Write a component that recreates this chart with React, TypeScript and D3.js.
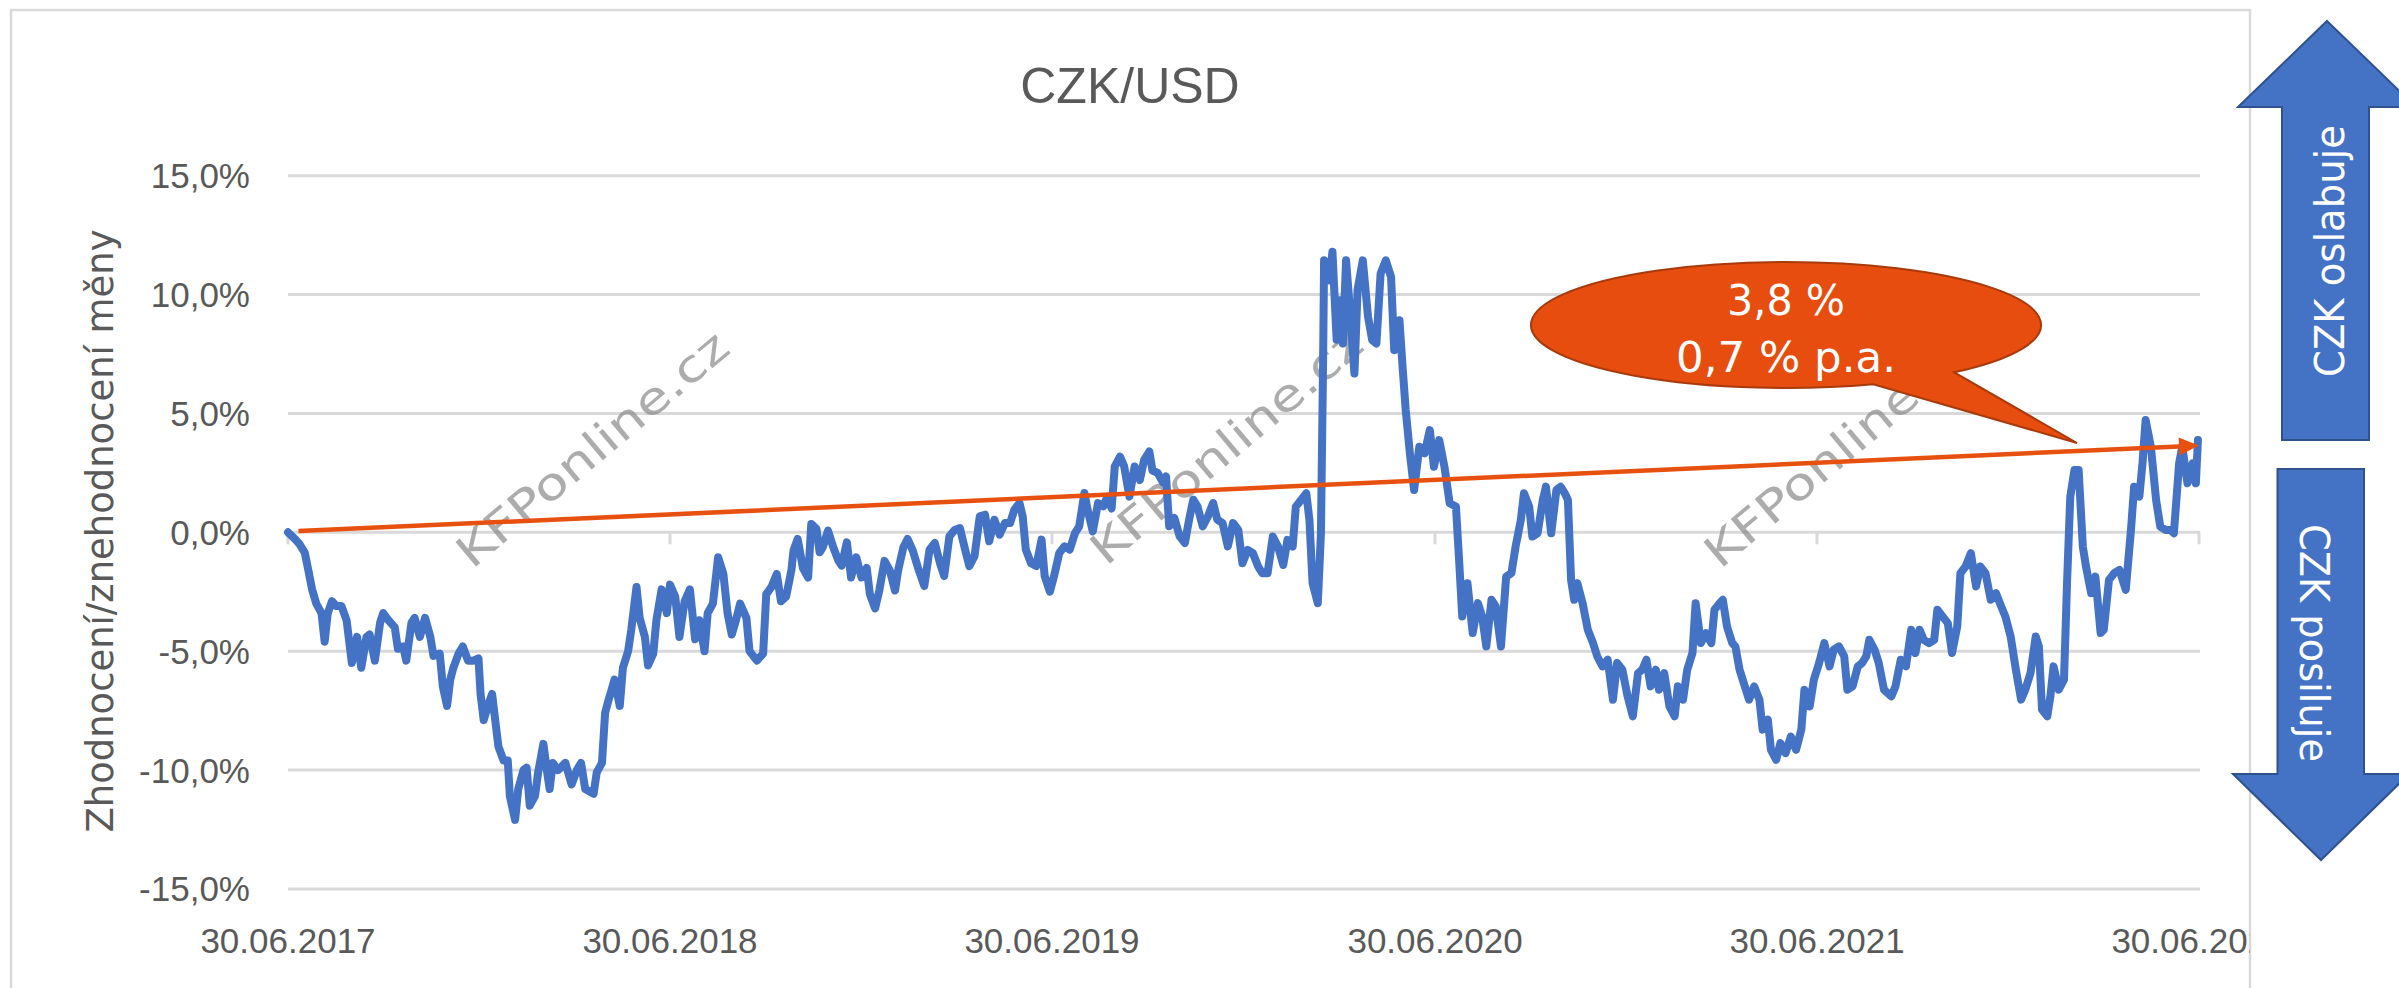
import React from 'react';
import * as d3 from 'd3';

// ---------- DATA ----------
const START = new Date(2017, 5, 30);
const END = new Date(2022, 5, 30);

// days since 30.06.2017
const dayOffsets = [
  0, 7, 11, 16, 19, 23, 27, 32, 35, 38, 42, 46, 51, 56, 61, 66, 70, 75, 78, 83, 88, 91, 96, 102, 105, 110, 113, 118, 121, 126, 131, 136, 139, 145, 148, 152, 155, 158, 163, 167, 172, 177, 182, 184, 187, 191, 195, 198, 201, 206, 210, 212, 217, 220, 225, 228, 231, 236, 239, 244, 247, 250, 253, 258, 265, 271, 276, 280, 284, 292, 295,
  300, 303, 306, 312, 317, 320, 325, 328, 333, 336, 341, 344, 349, 352, 357, 362, 365, 370, 374, 379, 384, 389, 393, 398, 401, 406, 411, 416, 420, 424, 428, 432, 438, 441, 448, 454, 457, 462, 467, 471, 476, 481, 483, 487, 492, 497, 500, 505, 508, 511, 516, 521, 526, 529, 534, 538, 543, 548, 553, 556, 561, 565, 570, 575, 580, 583, 588, 592, 597, 602,
  608, 613, 618, 623, 627, 632, 637, 642, 647, 651, 656, 661, 666, 670, 675, 680, 685, 690, 694, 699, 702, 705, 710, 715, 720, 723, 728, 732, 737, 742, 747, 752, 756, 761, 764, 769, 774, 779, 783, 787, 790, 795, 799, 804, 809, 814, 818, 823, 826, 831, 836, 839, 842, 847, 852, 857, 861, 865, 869, 874, 879, 884, 888, 893, 898, 903, 908, 912,
  917, 922, 927, 931, 936, 941, 946, 951, 955, 960, 963, 968, 973, 976, 979, 984, 987, 989, 990, 995, 998, 1002, 1005, 1008, 1011, 1014, 1019, 1022, 1027, 1032, 1036, 1040, 1044, 1049, 1054, 1057, 1062, 1065, 1068, 1072, 1076, 1081, 1086, 1091, 1095, 1100, 1105, 1110, 1116, 1119, 1122, 1127, 1132, 1137, 1141, 1145, 1150, 1154, 1159, 1164, 1169, 1173, 1178, 1181, 1186, 1189, 1194, 1199, 1202, 1207, 1212, 1216,
  1220, 1223, 1226, 1229, 1232, 1237, 1242, 1247, 1251, 1256, 1261, 1266, 1270, 1275, 1280, 1285, 1290, 1294, 1298, 1302, 1307, 1310, 1315, 1320, 1325, 1328, 1333, 1337, 1342, 1345, 1350, 1355, 1360, 1363, 1368, 1371, 1375, 1380, 1383, 1387, 1391, 1396, 1401, 1406, 1409, 1414, 1417, 1422, 1426, 1431, 1436, 1441, 1446, 1449, 1454, 1458, 1463, 1468, 1473, 1477, 1482, 1487, 1490, 1495, 1500, 1504, 1508, 1511, 1516, 1520, 1525,
  1532, 1536, 1541, 1546, 1551, 1555, 1559, 1563, 1568, 1573, 1576, 1581, 1586, 1590, 1595, 1598, 1603, 1608, 1613, 1617, 1622, 1627, 1632, 1637, 1641, 1646, 1651, 1656, 1660, 1665, 1670, 1673, 1676, 1681, 1684, 1687, 1692, 1697, 1700, 1703, 1707, 1711, 1715, 1718, 1723, 1727, 1732, 1735, 1740, 1745, 1750, 1756, 1761, 1764, 1769, 1772, 1775, 1780, 1785, 1789, 1794, 1799, 1802, 1807, 1810, 1815, 1820, 1823, 1825,
];

// appreciation / depreciation in %
const changePct = [
  0, -0.3, -0.5, -0.85, -1.5, -2.4, -3.0, -3.4, -4.6, -3.4, -2.9, -3.1, -3.1, -3.7, -5.5, -4.4, -5.7, -4.4, -4.3, -5.4, -3.8, -3.4, -3.7, -4.0, -4.9, -4.8, -5.4, -3.8, -3.6, -4.4, -3.6, -4.4, -5.2, -5.1, -6.5, -7.3, -6.2, -5.7, -5.1, -4.8, -5.4, -5.4, -5.3, -6.8, -7.9, -7.3, -6.8, -7.9, -9.0, -9.6, -9.6, -11.1, -12.1, -10.8, -10.0, -9.9, -11.5, -11.1, -10.1, -8.9, -9.9, -10.8, -9.7, -10.0, -9.7, -10.6, -10.0, -9.7, -10.8, -11.0, -10.1,
  -9.7, -7.6, -7.1, -6.2, -7.3, -5.7, -5.0, -4.1, -2.3, -3.6, -4.4, -5.6, -5.1, -3.7, -2.4, -3.4, -2.2, -2.7, -4.4, -2.9, -2.4, -4.5, -3.7, -5.0, -3.4, -3.0, -1.05, -1.75, -3.4, -4.3, -3.7, -3.0, -3.6, -5.0, -5.4, -5.1, -2.6, -2.3, -1.75, -2.9, -2.7, -1.6, -0.77, -0.28, -1.5, -1.9, 0.35, 0.14, -0.84, -0.63, 0.07, -0.63, -1.2, -1.4, -0.42, -1.9, -1.05, -1.9, -1.5, -2.6, -3.2, -2.45, -1.2, -1.6, -2.45, -1.6, -0.63, -0.28, -0.77, -1.5,
  -2.26, -0.73, -0.45, -1.3, -1.84, -0.17, 0.1, 0.18, -0.73, -1.42, -1.0, 0.67, 0.74, -0.38, 0.53, -0.1, 0.39, 0.39, 0.95, 1.23, 0.67, -0.73, -1.3, -1.42, -0.31, -1.84, -2.5, -1.84, -0.87, -0.59, -0.73, -0.03, 0.25, 1.65, 0.95, 0.04, 1.23, 1.09, 1.5, 1.0, 2.77, 3.18, 2.77, 1.5, 2.77, 2.2, 3.04, 3.4, 2.6, 2.5, 2.1, 2.35, 0.25, 0.6, -0.17, -0.45, 0.53, 1.37, 1.09, 0.25, 0.67, 1.23, 0.53, 0.39, -0.59, 0.39, 0.1, -1.3,
  -0.74, -0.88, -1.44, -1.72, -1.72, -0.18, -0.6, -1.37, -0.32, -0.6, 1.08, 1.36, 1.64, 0.52, -2.14, -2.98, -0.04, 6.96, 11.44, 10.6, 11.8, 8.1, 9.76, 7.94, 11.44, 9.76, 6.68, 10.2, 11.44, 9.06, 8.08, 7.94, 10.88, 11.44, 10.74, 7.66, 8.92, 6.96, 5.14, 3.32, 1.78, 3.6, 3.32, 4.3, 2.76, 3.88, 2.76, 1.22, 1.08, -1.16, -3.54, -2.14, -4.24, -2.98, -3.54, -4.8, -2.84, -3.12, -4.8, -1.86, -1.72, -0.6, 0.52, 1.64, 1.08, -0.18, -0.04, 1.36, 1.92, -0.04, 1.78, 1.92,
  1.64, 1.36, -2.0, -2.84, -2.14, -2.98, -4.1, -4.66, -5.22, -5.64, -5.36, -7.04, -5.5, -5.78, -6.9, -7.74, -5.92, -5.78, -5.36, -6.48, -5.78, -6.62, -5.92, -7.32, -7.74, -6.48, -7.04, -5.78, -5.08, -2.98, -4.66, -4.24, -4.66, -3.26, -2.98, -2.84, -3.96, -4.66, -4.8, -5.78, -6.34, -7.04, -6.48, -7.04, -8.3, -7.88, -9.15, -9.57, -8.87, -9.29, -8.59, -9.15, -8.3, -6.62, -7.32, -6.2, -5.5, -4.66, -5.64, -4.94, -4.8, -5.22, -6.62, -6.48, -5.64, -5.5, -5.22, -4.52, -4.94, -5.5, -6.62,
  -6.9, -6.48, -5.36, -5.64, -4.1, -5.08, -4.1, -4.52, -4.66, -4.52, -3.26, -3.54, -3.82, -5.08, -3.96, -1.72, -1.44, -0.88, -2.28, -1.44, -1.72, -2.84, -2.56, -3.12, -3.54, -4.38, -5.78, -7.04, -6.62, -5.92, -4.38, -4.8, -7.46, -7.74, -6.9, -5.64, -6.62, -6.2, -2.0, 1.5, 2.62, 2.62, -0.6, -1.44, -2.56, -1.86, -4.24, -4.1, -2.0, -1.72, -1.58, -2.42, 0.1, 1.92, 1.5, 2.9, 4.72, 3.6, 1.36, 0.24, 0.1, 0.1, -0.04, 2.9, 3.6, 2.06, 2.9, 2.06, 3.88,
];

const yTicks = [-15, -10, -5, 0, 5, 10, 15];
const xTickLabels = ['30.06.2017', '30.06.2018', '30.06.2019', '30.06.2020', '30.06.2021', '30.06.2022'];
const trendDays = [10, 1826];
const trendPct = [0.05, 3.65];
const calloutLines = ['3,8 %', '0,7 % p.a.'];
const titleText = 'CZK/USD';
const yAxisTitle = 'Zhodnocení/znehodnocení měny';
const upLabel = 'CZK oslabuje';
const downLabel = 'CZK posiluje';
const watermarkText = 'KFPonline.cz';

// ---------- LAYOUT ----------
const W = 2399;
const H = 988;
const PLOT_L = 288;
const PLOT_R = 2199;
const Y_TOP = 175.7;
const Y_BOT = 888.9;
const LABEL_FONT = '"Liberation Sans", Arial, sans-serif';
const GOTHIC_FONT = '"DejaVu Sans", Verdana, sans-serif';

const parseLabel = d3.timeParse('%d.%m.%Y');

export default function App() {
  const x = d3.scaleTime().domain([START, END]).range([PLOT_L, PLOT_R]);
  const y = d3.scaleLinear().domain([-15, 15]).range([Y_BOT, Y_TOP]);

  const points = dayOffsets.map((d, i) => ({ date: d3.timeDay.offset(START, d), v: changePct[i] }));
  const linePath = d3
    .line<{ date: Date; v: number }>()
    .x((p) => x(p.date))
    .y((p) => y(p.v))(points) as string;

  const fmtPct = (v: number) => d3.format('.1f')(v).replace('.', ',').replace('−', '-') + '%';

  // trend arrow
  const tx0 = x(d3.timeDay.offset(START, trendDays[0]));
  const ty0 = y(trendPct[0]);
  const tx1 = x(d3.timeDay.offset(START, trendDays[1]));
  const ty1 = y(trendPct[1]);
  const len = Math.hypot(tx1 - tx0, ty1 - ty0);
  const ux = (tx1 - tx0) / len;
  const uy = (ty1 - ty0) / len;
  const headL = 20;
  const headW = 9;
  const bx = tx1 - ux * headL;
  const by = ty1 - uy * headL;
  const head = `${tx1},${ty1} ${bx - uy * headW},${by + ux * headW} ${bx + uy * headW},${by - ux * headW}`;

  // callout
  const cx = 1786, cy = 325, rx = 255, ry = 63;
  const angA = (70 * Math.PI) / 180;
  const angB = (48.7 * Math.PI) / 180;
  const A = [cx + rx * Math.cos(angA), cy + ry * Math.sin(angA)];
  const B = [cx + rx * Math.cos(angB), cy + ry * Math.sin(angB)];
  const tip = [2077, 443];
  const calloutPath = `M${B[0]},${B[1]} L${tip[0]},${tip[1]} L${A[0]},${A[1]} A${rx},${ry} 0 1 1 ${B[0]},${B[1]} Z`;

  const watermarkStarts = [
    [472, 570],
    [1106, 567],
    [1720, 570],
  ];

  return (
    <svg
      width={W}
      height={H}
      style={{ position: 'absolute', left: 0, top: 0, background: '#fff' }}
      xmlns="http://www.w3.org/2000/svg"
    >
      <defs>
        <clipPath id="chartClip">
          <rect x={11} y={10} width={2239} height={1000} />
        </clipPath>
      </defs>
      <rect x={0} y={0} width={W} height={H} fill="#fff" />
      {/* chart frame */}
      <rect x={11} y={10} width={2239} height={1000} fill="#fff" stroke="#D9D9D9" strokeWidth={2.5} />

      <g clipPath="url(#chartClip)">
        {/* title */}
        <text x={1130} y={103} textAnchor="middle" fontFamily={LABEL_FONT} fontSize={50} fill="#595959">
          {titleText}
        </text>

        {/* gridlines */}
        {yTicks.map((t) => (
          <line key={t} x1={PLOT_L} x2={PLOT_R + 1} y1={y(t)} y2={y(t)} stroke="#D9D9D9" strokeWidth={3} />
        ))}
        {/* axis ticks at 0 */}
        {xTickLabels.map((lab) => {
          const xx = x(parseLabel(lab) as Date);
          return <line key={lab} x1={xx} x2={xx} y1={y(0)} y2={y(0) + 12} stroke="#D9D9D9" strokeWidth={3} />;
        })}

        {/* y tick labels */}
        {yTicks.map((t) => (
          <text
            key={t}
            x={250}
            y={y(t) + 12.5}
            textAnchor="end"
            fontFamily={LABEL_FONT}
            fontSize={35}
            fill="#595959"
          >
            {fmtPct(t)}
          </text>
        ))}

        {/* x tick labels */}
        {xTickLabels.map((lab) => (
          <text
            key={lab}
            x={x(parseLabel(lab) as Date)}
            y={953}
            textAnchor="middle"
            fontFamily={LABEL_FONT}
            fontSize={35}
            fill="#595959"
          >
            {lab}
          </text>
        ))}

        {/* y axis title */}
        <text
          transform={`translate(113,531) rotate(-90)`}
          textAnchor="middle"
          fontFamily={GOTHIC_FONT}
          fontSize={37}
          fill="#595959"
          textLength={603}
          lengthAdjust="spacingAndGlyphs"
        >
          {yAxisTitle}
        </text>

        {/* watermarks */}
        {watermarkStarts.map(([wx, wy], i) => (
          <text
            key={i}
            transform={`translate(${wx},${wy}) rotate(-40)`}
            fontFamily={GOTHIC_FONT}
            fontSize={44}
            fill="#8a8a8a"
            opacity={0.7}
            textLength={340}
            lengthAdjust="spacingAndGlyphs"
          >
            {watermarkText}
          </text>
        ))}

        {/* series */}
        <path d={linePath} fill="none" stroke="#4472C4" strokeWidth={8} strokeLinejoin="round" strokeLinecap="round" />

        {/* trend arrow */}
        <line x1={tx0} y1={ty0} x2={bx} y2={by} stroke="#E8500F" strokeWidth={4.5} />
        <polygon points={head} fill="#E8500F" />

        {/* callout */}
        <path d={calloutPath} fill="#E64D0F" stroke="#A83A0C" strokeWidth={2} />
        <text x={cx} y={315} textAnchor="middle" fontFamily={GOTHIC_FONT} fontSize={42} fill="#fff" textLength={118} lengthAdjust="spacingAndGlyphs">
          {calloutLines[0]}
        </text>
        <text x={cx} y={372} textAnchor="middle" fontFamily={GOTHIC_FONT} fontSize={42} fill="#fff" textLength={220} lengthAdjust="spacingAndGlyphs">
          {calloutLines[1]}
        </text>
      </g>

      {/* side arrows */}
      <polygon
        points="2327,21 2416,107 2369,107 2369,440 2282,440 2282,107 2238,107"
        fill="#4472C4"
        stroke="#2F528F"
        strokeWidth={2}
      />
      <text
        transform={`translate(2344,251) rotate(-90)`}
        textAnchor="middle"
        fontFamily={GOTHIC_FONT}
        fontSize={40}
        fill="#fff"
        textLength={252}
        lengthAdjust="spacingAndGlyphs"
      >
        {upLabel}
      </text>
      <polygon
        points="2277.5,469 2364,469 2364,774 2409,774 2321,860 2233,774 2277.5,774"
        fill="#4472C4"
        stroke="#2F528F"
        strokeWidth={2}
      />
      <text
        transform={`translate(2300,643) rotate(90)`}
        textAnchor="middle"
        fontFamily={GOTHIC_FONT}
        fontSize={40}
        fill="#fff"
        textLength={238}
        lengthAdjust="spacingAndGlyphs"
      >
        {downLabel}
      </text>
    </svg>
  );
}
